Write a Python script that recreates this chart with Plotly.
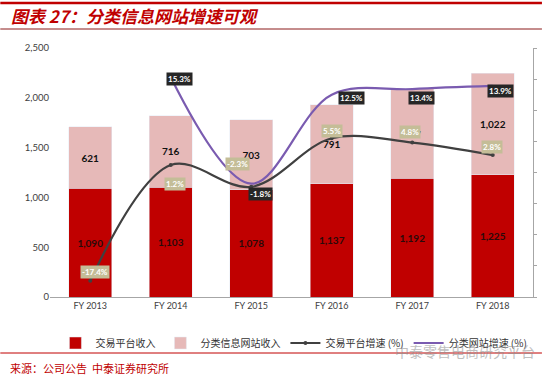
import plotly.graph_objects as go

categories = ["FY 2013", "FY 2014", "FY 2015", "FY 2016", "FY 2017", "FY 2018"]
trade_rev = [1090, 1103, 1078, 1137, 1192, 1225]
class_rev = [621, 716, 703, 791, 897, 1022]
trade_growth = [-17.4, 1.2, -2.3, 5.5, 4.8, 2.8]
class_growth = [None, 15.3, -1.8, 12.5, 13.4, 13.9]
left_ticks = [0, 500, 1000, 1500, 2000, 2500]

series_names = ["交易平台收入", "分类信息网站收入", "交易平台增速 (%)", "分类网站增速 (%)"]
title_text = "图表 27：分类信息网站增速可观"
source_text = "来源：公司公告  中泰证券研究所"
watermark_text = "中泰零售电商研究平台"

RED = "#C00000"
PINK = "#E6B9B8"
DARK = "#404040"
PURPLE = "#7A5BB0"
TAN = "#C4BD97"

fig = go.Figure()
fig.add_trace(go.Bar(x=categories, y=trade_rev, name=series_names[0], marker_color=RED,
                     texttemplate="%{y:,}", textposition="inside", insidetextanchor="middle",
                     textfont=dict(color="#2a0a0a", size=10, family="Lato", weight="bold")))
fig.add_trace(go.Bar(x=categories, y=class_rev, name=series_names[1], marker_color=PINK,
                     texttemplate="%{y:,}", textposition="inside", insidetextanchor="middle",
                     textfont=dict(color="#111111", size=10, family="Lato", weight="bold")))
fig.add_trace(go.Scatter(x=categories, y=trade_growth, name=series_names[2], yaxis="y2",
                         mode="lines+markers", line=dict(color=DARK, width=2.2, shape="spline", smoothing=1),
                         marker=dict(size=4, color=DARK)))
fig.add_trace(go.Scatter(x=categories, y=class_growth, name=series_names[3], yaxis="y2",
                         mode="lines", line=dict(color=PURPLE, width=2.2, shape="spline", smoothing=1),
                         connectgaps=False))

annos = []
trade_off = [(5, 9), (4, -19), (-14, 23), (0, 7), (-2, 11), (-1, 8)]
class_off = [None, (9, -2), (9, -10), (20, -3), (9, -9), (8, -5)]
for i, c in enumerate(categories):
    v = trade_growth[i]
    dx, dy = trade_off[i]
    annos.append(dict(x=c, y=v, xref="x", yref="y2", text=f"{v:.1f}%", showarrow=False,
                      xshift=dx, yshift=dy, bgcolor=TAN, borderpad=1,
                      font=dict(color="white", size=8, family="Lato", weight="bold")))
    v2 = class_growth[i]
    if v2 is not None:
        dx, dy = class_off[i]
        annos.append(dict(x=c, y=v2, xref="x", yref="y2", text=f"{v2:.1f}%", showarrow=False,
                          xshift=dx, yshift=dy, bgcolor="#262626", borderpad=1,
                          font=dict(color="white", size=8, family="Lato", weight="bold")))

def py(p):
    return (297 - p) / 249.0

def px(x):
    return (x - 50) / 486.0

annos.append(dict(x=px(9), y=py(16), xref="paper", yref="paper", xanchor="left", yanchor="middle",
                  text=title_text, showarrow=False,
                  font=dict(color=RED, size=17, family="Noto Sans CJK SC", weight="bold", style="italic")))
annos.append(dict(x=px(8), y=py(368), xref="paper", yref="paper", xanchor="left", yanchor="middle",
                  text=source_text, showarrow=False,
                  font=dict(color=RED, size=11, family="Noto Sans CJK SC")))
annos.append(dict(x=px(395), y=py(351), xref="paper", yref="paper", xanchor="left", yanchor="middle",
                  text=watermark_text, showarrow=False, opacity=0.55,
                  font=dict(color="#8c8c8c", size=14, family="Noto Sans CJK SC")))

shapes = [
    dict(type="line", xref="paper", yref="paper", x0=px(0), x1=px(545), y0=py(3), y1=py(3),
         line=dict(color=RED, width=2.5)),
    dict(type="line", xref="paper", yref="paper", x0=px(0), x1=px(545), y0=py(29), y1=py(29),
         line=dict(color="#8B1A1A", width=1)),
    dict(type="line", xref="paper", yref="paper", x0=px(0), x1=px(545), y0=py(353), y1=py(353),
         line=dict(color=RED, width=1)),
]

fig.update_layout(
    width=545, height=377,
    margin=dict(l=50, r=9, t=48, b=80),
    paper_bgcolor="white", plot_bgcolor="white",
    barmode="stack", bargap=0.47,
    showlegend=True,
    legend=dict(orientation="h", x=0.505, xanchor="center", y=py(343), yanchor="middle",
                font=dict(size=10, color="#333333", family="Noto Sans CJK SC"),
                itemwidth=30, traceorder="normal", bgcolor="rgba(0,0,0,0)"),
    xaxis=dict(showline=True, linecolor="#A6A6A6", linewidth=1, ticks="",
               tickfont=dict(size=9, color="#404040", family="Lato"), showgrid=False),
    yaxis=dict(range=[0, 2500], tickvals=left_ticks, tickformat=",", showgrid=False, zeroline=False,
               showline=False, ticks="", tickfont=dict(size=9.5, color="#404040", family="Lato")),
    yaxis2=dict(range=[-20, 20], overlaying="y", side="right", showgrid=False, zeroline=False,
                showline=True, linecolor="#A6A6A6", linewidth=1, ticks="outside", ticklen=3,
                tickcolor="#A6A6A6", dtick=5, showticklabels=False),
    annotations=annos, shapes=shapes,
)

fig.write_html("out.html", config={"displayModeBar": False},
               post_script="document.body.style.margin='0px';document.body.style.overflow='hidden';")
